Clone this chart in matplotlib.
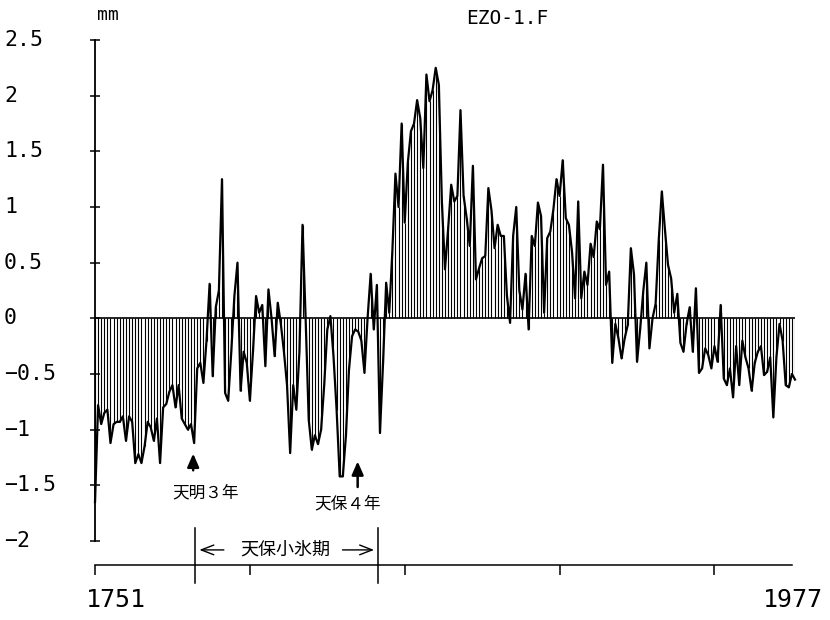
import numpy as np
import matplotlib.pyplot as plt
from matplotlib.transforms import blended_transform_factory

# ring-width deviation (mm), one value per year, 1751-1977
years = np.arange(1751, 1978)
values = [
    -1.65, -0.78, -0.95, -0.85, -0.82, -1.12, -0.95, -0.93, -0.93, -0.88,  # 1751
    -1.10, -0.88, -0.93, -1.30, -1.22, -1.30, -1.15, -0.93, -0.98, -1.10,  # 1761
    -0.90, -1.30, -0.80, -0.77, -0.66, -0.60, -0.80, -0.60, -0.90, -0.95,  # 1771
    -1.00, -0.95, -1.12, -0.45, -0.40, -0.58, -0.20, 0.31, -0.52, 0.10,    # 1781
    0.25, 1.25, -0.67, -0.74, -0.30, 0.20, 0.50, -0.65, -0.30, -0.40,      # 1791
    -0.74, -0.30, 0.20, 0.05, 0.12, -0.43, 0.26, 0.00, -0.34, 0.14,        # 1801
    -0.05, -0.30, -0.60, -1.21, -0.60, -0.82, -0.30, 0.84, 0.00, -0.91,    # 1811
    -1.18, -1.05, -1.13, -1.00, -0.60, -0.10, 0.02, -0.34, -0.82, -1.42,   # 1821
    -1.42, -1.06, -0.46, -0.16, -0.10, -0.12, -0.20, -0.49, 0.00, 0.40,    # 1831
    -0.10, 0.30, -1.03, -0.40, 0.32, 0.05, 0.60, 1.30, 1.00, 1.75,         # 1841
    0.86, 1.40, 1.68, 1.75, 1.96, 1.80, 1.35, 2.19, 1.95, 2.05,            # 1851
    2.25, 2.10, 1.04, 0.44, 0.80, 1.20, 1.05, 1.10, 1.87, 1.10,            # 1861
    0.90, 0.65, 1.37, 0.35, 0.45, 0.54, 0.56, 1.17, 0.97, 0.63,            # 1871
    0.84, 0.74, 0.74, 0.20, -0.04, 0.74, 1.00, 0.25, 0.08, 0.40,           # 1881
    -0.10, 0.74, 0.65, 1.04, 0.92, 0.05, 0.72, 0.78, 0.98, 1.25,           # 1891
    1.10, 1.42, 0.90, 0.84, 0.60, 0.18, 1.05, 0.18, 0.42, 0.30,            # 1901
    0.67, 0.55, 0.87, 0.80, 1.38, 0.30, 0.42, -0.40, -0.05, -0.18,         # 1911
    -0.36, -0.18, -0.06, 0.63, 0.40, -0.39, -0.10, 0.24, 0.50, -0.27,      # 1921
    0.00, 0.13, 0.70, 1.14, 0.80, 0.48, 0.36, 0.05, 0.22, -0.22,           # 1931
    -0.30, -0.05, 0.10, -0.30, 0.27, -0.49, -0.45, -0.27, -0.33, -0.45,    # 1941
    -0.25, -0.39, 0.12, -0.54, -0.60, -0.45, -0.71, -0.25, -0.60, -0.20,   # 1951
    -0.35, -0.45, -0.65, -0.40, -0.30, -0.25, -0.51, -0.48, -0.35, -0.89,  # 1961
    -0.35, -0.05, -0.20, -0.60, -0.62, -0.50, -0.55,                       # 1971
]
values = np.array(values)

yticks = [2.5, 2, 1.5, 1, 0.5, 0, -0.5, -1, -1.5, -2]
ytick_labels = ["2.5", "2", "1.5", "1", "0.5", "0", "−0.5", "−1", "−1.5", "−2"]
xticks = [1751, 1801, 1851, 1901, 1951]

mono = "DejaVu Sans Mono"
jp = ["Noto Sans CJK JP", "DejaVu Sans"]

W, H = 830, 620
fig = plt.figure(figsize=(W / 100, H / 100), dpi=100)
# axes box in pixels: x 95..795, y 40..541
ax = fig.add_axes([95 / W, (H - 541) / H, 700 / W, 501 / H])
ax.set_xlim(1751, 1977)
ax.set_ylim(-2, 2.5)

# hatch lines and curve
ax.vlines(years, 0, values, color="black", lw=0.8)
ax.plot(years, values, color="black", lw=1.6, clip_on=False)
ax.plot([1751, 1977], [0, 0], color="black", lw=1.2)

for s in ["top", "right"]:
    ax.spines[s].set_visible(False)
ax.spines["left"].set_linewidth(1.3)
ax.spines["bottom"].set_position(("outward", 17.5))
ax.spines["bottom"].set_bounds(1751, 1976)
ax.spines["bottom"].set_linewidth(1.1)

ax.set_yticks(yticks)
ax.set_yticklabels([])
ax.tick_params(axis="y", direction="inout", length=7, width=1.1)
ax.set_xticks(xticks)
ax.set_xticklabels([])
ax.tick_params(axis="x", direction="out", length=7, width=1.1)

# y tick labels, left aligned at the figure edge
tr = blended_transform_factory(fig.transFigure, ax.transData)
for v, lab in zip(yticks, ytick_labels):
    ax.text(4 / W, v, lab, transform=tr, ha="left", va="center",
            fontsize=15.5, family=mono)

fig.text(86 / W, 1 - 600 / H, "1751", ha="left", va="center", fontsize=18, family=mono)
fig.text(823 / W, 1 - 600 / H, "1977", ha="right", va="center", fontsize=18, family=mono)
fig.text(97 / W, 1 - 15 / H, "mm", ha="left", va="center", fontsize=13, family=mono)
fig.text(507 / W, 1 - 18 / H, "EZO-1.F", ha="center", va="center", fontsize=14, family=mono)

# event arrows
arrow_style = dict(arrowstyle="-|>,head_width=0.35,head_length=0.8",
                   color="black", lw=1.8)
ax.annotate("", xy=(1782.7, -1.19), xytext=(1782.7, -1.39),
            arrowprops=arrow_style, annotation_clip=False)
ax.text(1786.6, -1.57, "天明３年", ha="center", va="center", fontsize=12, family=jp)
ax.annotate("", xy=(1835.8, -1.26), xytext=(1835.8, -1.54),
            arrowprops=arrow_style, annotation_clip=False)
ax.text(1832.6, -1.67, "天保４年", ha="center", va="center", fontsize=12, family=jp)

# Tenpo little ice age bracket
for yr in [1783.4, 1842.3]:
    ax.plot([yr, yr], [-1.88, -2.38], color="black", lw=1.1, clip_on=False)
ax.annotate("", xy=(1783.8, -2.08), xytext=(1793.5, -2.08),
            arrowprops=dict(arrowstyle="->,head_width=0.35,head_length=0.9",
                            color="black", lw=1.0), annotation_clip=False)
ax.annotate("", xy=(1842.0, -2.08), xytext=(1830.0, -2.08),
            arrowprops=dict(arrowstyle="->,head_width=0.35,head_length=0.9",
                            color="black", lw=1.0), annotation_clip=False)
ax.text(1812.3, -2.08, "天保小氷期", ha="center", va="center", fontsize=13, family=jp)

fig.savefig("out.png", dpi=100)
